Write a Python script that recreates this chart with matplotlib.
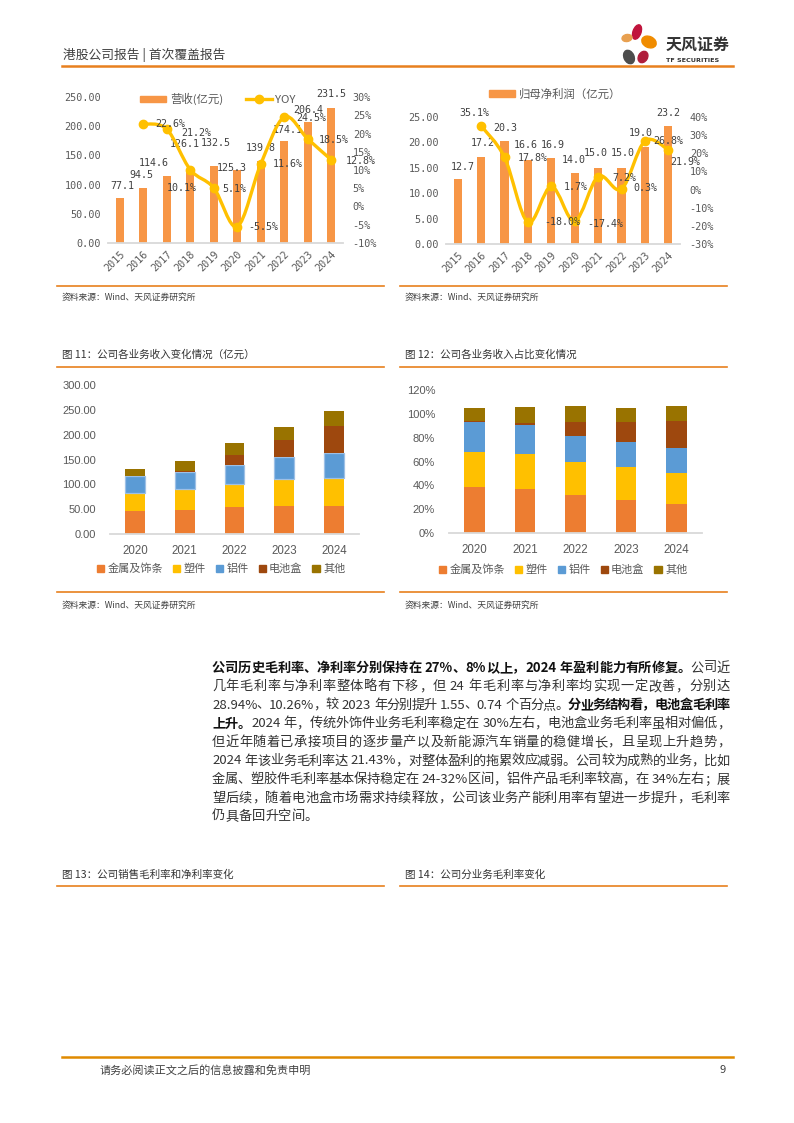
import numpy as np
import matplotlib
matplotlib.use('Agg')
import matplotlib.pyplot as plt
from matplotlib.patches import Ellipse, Rectangle, PathPatch
from matplotlib.path import Path
from matplotlib.lines import Line2D

plt.rcParams['font.family'] = ['Noto Sans CJK SC', 'DejaVu Sans']
plt.rcParams['axes.unicode_minus'] = False

W, H = 794, 1123

# ---- 数据 ----
years = ['2015', '2016', '2017', '2018', '2019', '2020', '2021', '2022', '2023', '2024']
revenue = [77.1, 94.5, 114.6, 126.1, 132.5, 125.3, 139.8, 174.1, 206.4, 231.5]
revenue_yoy = [22.6, 21.2, 10.1, 5.1, -5.5, 11.6, 24.5, 18.5, 12.8]      # 2016-2024
profit = [12.7, 17.2, 20.3, 16.6, 16.9, 14.0, 15.0, 15.0, 19.0, 23.2]
profit_yoy = [35.1, 17.8, -18.0, 1.7, -17.4, 7.2, 0.3, 26.8, 21.9]       # 2016-2024

seg_years = ['2020', '2021', '2022', '2023', '2024']
seg_names = ['金属及饰条', '塑件', '铝件', '电池盒', '其他']
seg_metal = [47.0, 49.0, 53.6, 55.6, 55.6]
seg_plastic = [35.5, 41.5, 47.0, 55.6, 57.6]
seg_alu = [33.5, 35.0, 38.0, 43.5, 50.2]
seg_battery = [1.0, 2.0, 21.0, 35.0, 54.0]
seg_other = [13.0, 20.0, 24.0, 26.0, 30.0]

share_metal = [38.7, 37.0, 32.0, 27.8, 24.4]
share_plastic = [29.1, 29.4, 27.7, 27.7, 26.1]
share_alu = [25.5, 24.4, 21.9, 21.0, 21.0]
share_battery = [0.9, 1.7, 11.8, 16.9, 22.7]
share_other = [10.7, 13.2, 13.4, 11.7, 12.6]

# 颜色
C_BAR = '#F79646'
C_LINE = '#FFC000'
SEG_COLORS = ['#ED7D31', '#FFC000', '#5B9BD5', '#9E480E', '#997300']
TXT = '#404040'
TICK = '#595959'
ORANGE = '#E8801E'
MONO = 'DejaVu Sans Mono'

fig = plt.figure(figsize=(W / 100, H / 100), dpi=100)

# 背景层（像素坐标）
bg = fig.add_axes([0, 0, 1, 1], zorder=-1)
bg.set_xlim(0, W)
bg.set_ylim(H, 0)
bg.axis('off')


def px_axes(l, t, r, b):
    return fig.add_axes([l / W, 1 - b / H, (r - l) / W, (b - t) / H])


def clean(ax):
    for s in ['top', 'left', 'right']:
        ax.spines[s].set_visible(False)
    ax.spines['bottom'].set_color('#D9D9D9')
    ax.spines['bottom'].set_linewidth(1.3)
    ax.tick_params(length=0)


def smooth_path(xs, ys):
    pts = np.column_stack([xs, ys]).astype(float)
    n = len(pts)
    verts = [pts[0]]
    codes = [Path.MOVETO]
    for i in range(n - 1):
        p0 = pts[i - 1] if i > 0 else pts[i]
        p1, p2 = pts[i], pts[i + 1]
        p3 = pts[i + 2] if i + 2 < n else p2
        verts += [p1 + (p2 - p0) / 6, p2 - (p3 - p1) / 6, p2]
        codes += [Path.CURVE4] * 3
    return Path(verts, codes)


def bar_line_chart(box, values, growth, ylim, rlim, rstep, bar_off, line_off, legend_items, legend_xy):
    ax = px_axes(*box)
    x = np.arange(len(years))
    ax.bar(x, values, width=0.35, color=C_BAR, zorder=2)
    ax.set_xlim(-0.5, len(years) - 0.5)
    clean(ax)
    yt = np.arange(ylim[0], ylim[1] + 0.01, ylim[2])
    ax.set_ylim(ylim[0], ylim[1])
    ax.set_yticks(yt)
    ax.set_yticklabels([f'{v:.2f}' for v in yt], fontfamily=MONO, fontsize=7.3, color=TICK)
    ax.tick_params(axis='y', pad=5)
    ax.set_xticks(x)
    ax.set_xticklabels(years, rotation=45, ha='right', va='top', rotation_mode='anchor',
                       fontfamily=MONO, fontsize=7.3, color=TICK)
    ax.tick_params(axis='x', pad=4)
    for xi, v, (dx, dy) in zip(x, values, bar_off):
        ax.annotate(f'{v:.1f}', (xi, v), xytext=(dx, -dy), textcoords='offset pixels',
                    ha='center', va='center', fontfamily=MONO, fontsize=7.2, color=TXT,
                    annotation_clip=False)

    axr = ax.twinx()
    axr.set_ylim(*rlim)
    for s in axr.spines.values():
        s.set_visible(False)
    axr.tick_params(length=0, pad=7)
    rt = np.arange(rlim[0], rlim[1] + 0.01, rstep)
    axr.set_yticks(rt)
    axr.set_yticklabels([f'{v:.0f}%' for v in rt], fontfamily=MONO, fontsize=7.3, color=TICK)
    gx = x[1:]
    axr.add_patch(PathPatch(smooth_path(gx, growth), fill=False, edgecolor=C_LINE,
                            lw=2.4, capstyle='round', joinstyle='round', zorder=3))
    axr.plot(gx, growth, 'o', color=C_LINE, ms=6, zorder=4)
    for xi, v, (dx, dy) in zip(gx, growth, line_off):
        axr.annotate(f'{v:.1f}%', (xi, v), xytext=(dx, -dy), textcoords='offset pixels',
                     ha='center', va='center', fontfamily=MONO, fontsize=7.2, color=TXT,
                     annotation_clip=False, zorder=5)

    handles = []
    for kind in legend_items[0]:
        if kind == 'bar':
            handles.append(Rectangle((0, 0), 1, 1, color=C_BAR))
        else:
            handles.append(Line2D([], [], color=C_LINE, lw=2.4, marker='o', ms=6))
    leg = ax.legend(handles, legend_items[1], ncol=len(handles), loc='center',
                    bbox_to_anchor=(legend_xy[0] / W, 1 - legend_xy[1] / H),
                    bbox_transform=fig.transFigure, frameon=False, fontsize=8.2,
                    handlelength=2.3, handleheight=0.55, handletextpad=0.3, columnspacing=2.0)
    for t in leg.get_texts():
        t.set_color(TICK)
    return ax


# ---- 图：营收 ----
bar_line_chart((108, 97, 343, 243), revenue, revenue_yoy, (0, 250, 50), (-10, 30), 5,
               [(3, -12), (-2, -13), (-13, -13), (-5, -25), (2, -23), (-5, -2),
                (0, -13), (4, -11), (1, -12), (0, -14)],
               [(27, 0), (30, 4), (-8, 18), (21, 1), (26, 0), (27, 0), (27, 1), (26, 1), (30, 1)],
               (['bar', 'line'], ['营收(亿元)', 'YOY']), (218, 99))

# ---- 图：归母净利润 ----
bar_line_chart((446, 117, 680, 244), profit, profit_yoy, (0, 25, 5), (-30, 40), 10,
               [(5, -12), (2, -14), (1, -13), (-2, -15), (1, -13), (-1, -13),
                (-2, -15), (1, -15), (-4, -14), (0, -13)],
               [(-7, -13), (28, 1), (34, 0), (24, 1), (31, 3), (26, 1), (24, -1), (23, 0), (17, 12)],
               (['bar'], ['归母净利润（亿元）']), (555, 94))


# ---- 堆积柱 ----
def stacked_chart(box, series, ylim, step, fmt, width, legend_xy, lw_edge):
    ax = px_axes(*box)
    x = np.arange(len(seg_years))
    bottom = np.zeros(len(seg_years))
    for i, (vals, c) in enumerate(zip(series, SEG_COLORS)):
        kw = {}
        if i == 2 and lw_edge:
            kw = dict(edgecolor='#9DC0E6', linewidth=0.9)
        ax.bar(x, vals, bottom=bottom, width=width, color=c, label=seg_names[i], zorder=2, **kw)
        bottom += np.array(vals)
    ax.set_xlim(-0.5, len(seg_years) - 0.5)
    ax.set_ylim(0, ylim)
    clean(ax)
    yt = np.arange(0, ylim + 0.01, step)
    ax.set_yticks(yt)
    ax.set_yticklabels([fmt(v) for v in yt], fontfamily='Liberation Sans', fontsize=8, color=TICK)
    ax.tick_params(axis='y', pad=10)
    ax.set_xticks(x)
    ax.set_xticklabels(seg_years, fontfamily='Liberation Sans', fontsize=8.3, color=TICK)
    ax.tick_params(axis='x', pad=8)
    handles = [Rectangle((0, 0), 1, 1, color=c) for c in SEG_COLORS]
    leg = ax.legend(handles, seg_names, ncol=5, loc='center',
                    bbox_to_anchor=(legend_xy[0] / W, 1 - legend_xy[1] / H),
                    bbox_transform=fig.transFigure, frameon=False, fontsize=8,
                    handlelength=0.65, handleheight=0.65, handletextpad=0.3, columnspacing=0.9)
    for t in leg.get_texts():
        t.set_color(TICK)


stacked_chart((110, 385, 359, 534), [seg_metal, seg_plastic, seg_alu, seg_battery, seg_other],
              300, 50, lambda v: f'{v:.2f}', 0.40, (221, 569), True)
stacked_chart((449, 390, 702, 533), [share_metal, share_plastic, share_alu, share_battery, share_other],
              120, 20, lambda v: f'{v:.0f}%', 0.41, (563, 570), False)

# ---- 页面文字 ----
bg.text(63, 55, '港股公司报告 | 首次覆盖报告', fontsize=9.2, color=TXT, va='center')
bg.plot([62, 733], [66, 66], color=ORANGE, lw=1.8)

# logo
for (cx, cy, w, h, ang, col) in [(637, 32, 8, 15, 20, '#C0143C'), (627, 38, 10, 7, -10, '#E8A050'),
                                 (649, 42, 15, 11, 25, '#F08C00'), (629, 57, 10, 14, -25, '#4D4D4D'),
                                 (643, 57, 9, 12, 30, '#B01E3C')]:
    bg.add_patch(Ellipse((cx, cy), w, h, angle=ang, color=col))
bg.text(666, 45, '天风证券', fontsize=11.5, fontweight='bold', color='#333333', va='center')
bg.text(666, 61, 'TF SECURITIES', fontsize=4.6, fontweight='bold', color='#333333', va='center',
        fontfamily='DejaVu Sans')

src = '资料来源：Wind、天风证券研究所'
for (x0, x1) in [(57, 384), (400, 727)]:
    for y in [286, 592]:
        bg.plot([x0, x1], [y, y], color=ORANGE, lw=1.2)
    for y in [367, 886]:
        bg.plot([x0, x1], [y, y], color=ORANGE, lw=1.2)
for x0 in [62, 405]:
    bg.text(x0, 297, src, fontsize=6.3, color=TXT, va='center')
    bg.text(x0, 605, src, fontsize=6.3, color=TXT, va='center')

cap_kw = dict(fontsize=7.6, color='#333333', va='center', fontweight='medium')
bg.text(62, 355, '图 11：公司各业务收入变化情况（亿元）', **cap_kw)
bg.text(405, 355, '图 12：公司各业务收入占比变化情况', **cap_kw)
bg.text(62, 875, '图 13：公司销售毛利率和净利率变化', **cap_kw)
bg.text(405, 875, '图 14：公司分业务毛利率变化', **cap_kw)

# 正文段落（两端对齐）
para = [
    [('公司历史毛利率、净利率分别保持在 27%、8%以上，2024 年盈利能力有所修复。', True), ('公司近', False)],
    [('几年毛利率与净利率整体略有下移，但 24 年毛利率与净利率均实现一定改善，分别达', False)],
    [('28.94%、10.26%，较 2023 年分别提升 1.55、0.74 个百分点。', False), ('分业务结构看，电池盒毛利率', True)],
    [('上升。', True), ('2024 年，传统外饰件业务毛利率稳定在 30%左右，电池盒业务毛利率虽相对偏低，', False)],
    [('但近年随着已承接项目的逐步量产以及新能源汽车销量的稳健增长，且呈现上升趋势，', False)],
    [('2024 年该业务毛利率达 21.43%，对整体盈利的拖累效应减弱。公司较为成熟的业务，比如', False)],
    [('金属、塑胶件毛利率基本保持稳定在 24-32%区间，铝件产品毛利率较高，在 34%左右；展', False)],
    [('望后续，随着电池盒市场需求持续释放，公司该业务产能利用率有望进一步提升，毛利率', False)],
    [('仍具备回升空间。', False)],
]


def tokenize(runs):
    toks = []
    for text, bold in runs:
        buf = ''
        for ch in text:
            if ch == ' ':
                if buf:
                    toks.append((buf, bold, False))
                    buf = ''
                if toks:
                    toks[-1] = (toks[-1][0], toks[-1][1], True)
            elif ch.isascii():
                buf += ch
            else:
                if buf:
                    toks.append((buf, bold, False))
                    buf = ''
                toks.append((ch, bold, False))
        if buf:
            toks.append((buf, bold, False))
    return toks


renderer = fig.canvas.get_renderer()
PX0, PX1, PY0, LH, FS = 212, 730, 668, 18.6, 9.5
SPACE = 3.5
for li, runs in enumerate(para):
    y = PY0 + li * LH
    toks = tokenize(runs)
    objs = []
    widths = []
    for tok, bold, sp in toks:
        t = bg.text(0, y, tok, fontsize=FS, va='center', ha='left',
                    color='#111111' if bold else '#333333',
                    fontweight='bold' if bold else 'normal')
        objs.append(t)
        widths.append(t.get_window_extent(renderer).width)
    n_sp = sum(1 for tk in toks[:-1] if tk[2])
    natural = sum(widths) + n_sp * SPACE
    gap = 0.0
    if li < len(para) - 1 and len(toks) > 1:
        gap = (PX1 - PX0 - natural) / (len(toks) - 1)
    x = PX0
    for t, w, tk in zip(objs, widths, toks):
        t.set_x(x)
        x += w + gap + (SPACE if tk[2] else 0)

# 页脚
bg.plot([62, 733], [1057, 1057], color='#E08A00', lw=1.8)
bg.text(100, 1070, '请务必阅读正文之后的信息披露和免责申明', fontsize=8, color=TXT, va='center')
bg.text(726, 1070, '9', fontsize=8, color=TXT, va='center', ha='right')

fig.savefig('out.png', dpi=100)
